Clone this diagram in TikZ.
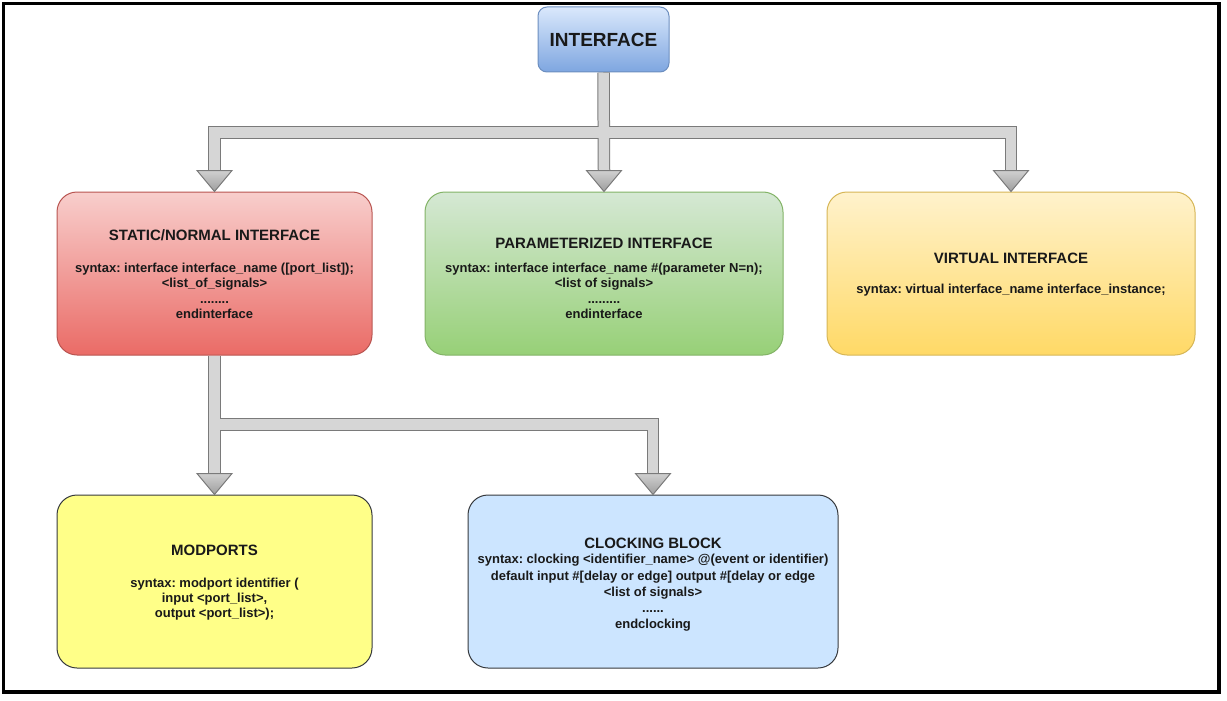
\documentclass[tikz,border=0pt]{standalone}
\usepackage{fontspec}
\setmainfont{Liberation Sans}
\usetikzlibrary{calc}
\frenchspacing
\definecolor{arrline}{HTML}{7A7A7A}
\definecolor{arrfill}{HTML}{D6D6D6}
\definecolor{arrheadtop}{HTML}{D0D0D0}
\definecolor{arrheadbot}{HTML}{9E9E9E}
\definecolor{bluetop}{HTML}{DAE8FC}
\definecolor{bluebot}{HTML}{7EA6E0}
\definecolor{blueline}{HTML}{6C8EBF}
\definecolor{redtop}{HTML}{F8CECC}
\definecolor{redbot}{HTML}{EA6B66}
\definecolor{redline}{HTML}{B85450}
\definecolor{greentop}{HTML}{D5E8D4}
\definecolor{greenbot}{HTML}{97D077}
\definecolor{greenline}{HTML}{82B366}
\definecolor{yeltop}{HTML}{FFF2CC}
\definecolor{yelbot}{HTML}{FFD966}
\definecolor{yelline}{HTML}{D6B656}
\definecolor{modfill}{HTML}{FFFF88}
\definecolor{clkfill}{HTML}{CCE5FF}
\definecolor{darkline}{HTML}{36393D}
\begin{document}
\begin{tikzpicture}[x=1pt,y=-1pt,
  box/.style={draw, line width=1pt, rounded corners=20pt, inner sep=0pt},
  titletxt/.style={font=\bfseries\fontsize{15}{17}\selectfont\frenchspacing, align=center, inner sep=0pt, text=black!90},
  bodytxt/.style={font=\bfseries\fontsize{13}{15.3}\selectfont\frenchspacing, align=center, inner sep=0pt, text=black!90},
  shaftout/.style={draw=arrline, line width=12.5pt, line join=miter},
  shaftin/.style={draw=arrfill, line width=10.5pt, line join=miter},
  headshape/.style={draw=arrline, line width=1pt, top color=arrheadtop, bottom color=arrheadbot, line join=miter}
]
\useasboundingbox (0,0) rectangle (1227,701);
\draw[line width=3.5pt] (3.5,3.5) rectangle (1219,692);

% boxes
\node[box, draw=blueline, top color=bluetop, bottom color=bluebot, rounded corners=9pt,
  minimum width=131pt, minimum height=65pt] (iface) at (603.5,39.5) {};
\node[box, draw=redline, top color=redtop, bottom color=redbot,
  minimum width=315pt, minimum height=163pt] (static) at (214.5,273.5) {};
\node[box, draw=greenline, top color=greentop, bottom color=greenbot,
  minimum width=358pt, minimum height=163pt] (param) at (604,273.5) {};
\node[box, draw=yelline, top color=yeltop, bottom color=yelbot,
  minimum width=368pt, minimum height=163pt] (virtual) at (1011,273.5) {};
\node[box, draw=darkline, fill=modfill,
  minimum width=315pt, minimum height=173pt] (modports) at (214.5,581.5) {};
\node[box, draw=darkline, fill=clkfill,
  minimum width=370pt, minimum height=173pt] (clocking) at (653,581.5) {};

% texts
\node[titletxt, font=\bfseries\fontsize{19}{21}\selectfont] (ifacet) at (iface.center) {INTERFACE};

\node[titletxt] (statict) at (214.5,235) {STATIC/NORMAL INTERFACE};
\node[bodytxt] (staticb) at (214.5,291) {syntax: interface interface\_name ([port\_list]);\\ <list\_of\_signals>\\ ........\\ endinterface};

\node[titletxt] (paramt) at (604,243) {PARAMETERIZED INTERFACE};
\node[bodytxt] (paramb) at (604,291) {syntax: interface interface\_name \#(parameter N=n);\\ <list of signals>\\ .........\\ endinterface};

\node[titletxt] (virtualt) at (1011,258) {VIRTUAL INTERFACE};
\node[bodytxt] (virtualb) at (1011,290) {syntax: virtual interface\_name interface\_instance;};

\node[titletxt] (modportst) at (214.5,550) {MODPORTS};
\node[bodytxt] (modportsb) at (214.5,599) {syntax: modport identifier (\\ input <port\_list>,\\ output <port\_list>);};

\node[titletxt] (clockingt) at (653,543) {CLOCKING BLOCK};
\node[bodytxt, font=\bfseries\fontsize{13}{16.3}\selectfont\frenchspacing] (clockingb) at (653,593) {syntax: clocking <identifier\_name> @(event or identifier)\\ default input \#[delay or edge] output \#[delay or edge\\ <list of signals>\\ ......\\ endclocking};

% connector junctions
\coordinate (bus1) at (603.5,132.5);
\coordinate (bus2) at (214.5,424.5);

% shaft outlines
\draw[shaftout] (iface.south) -- ([yshift=21pt]param.north);
\draw[shaftout] ([yshift=21pt]static.north) |- (bus1) -| ([yshift=21pt]virtual.north);
\draw[shaftout] (static.south) -- ([yshift=21pt]modports.north);
\draw[shaftout] (bus2) -| ([yshift=21pt]clocking.north);
% shaft fills
\draw[shaftin] ([yshift=-0.5pt]iface.south) -- ([yshift=21pt]param.north);
\draw[shaftin] ([yshift=21pt]static.north) |- (bus1) -| ([yshift=21pt]virtual.north);
\draw[shaftin] ([yshift=-0.5pt]static.south) -- ([yshift=21pt]modports.north);
\draw[shaftin] (bus2) -| ([yshift=21pt]clocking.north);

% arrow heads
\foreach \n in {static,param,virtual,modports,clocking}{
  \draw[headshape] (\n.north) -- ++(-17.5,-21) -- ++(35,0) -- cycle;
}
\end{tikzpicture}
\end{document}
